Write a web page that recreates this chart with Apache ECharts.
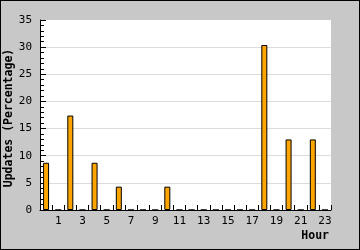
<!DOCTYPE html>
<html>
<head>
<meta charset="utf-8">
<script src="https://cdn.jsdelivr.net/npm/echarts@6/dist/echarts.min.js"></script>
<style>
  html, body { margin: 0; padding: 0; background: #c8c8c8; }
  #chart { width: 360px; height: 250px; box-sizing: border-box; border: 1px solid #000; }
</style>
</head>
<body>
<div id="chart"></div>
<script>
const hours = ['0','1','2','3','4','5','6','7','8','9','10','11','12','13','14','15','16','17','18','19','20','21','22','23'];
const updates = [8.7, 0, 17.4, 0, 8.7, 0, 4.3, 0, 0, 0, 4.3, 0, 0, 0, 0, 0, 0, 0, 30.4, 0, 13.0, 0, 13.0, 0];
const yMin = 0, yMax = 35, yStep = 5;
const xTitle = 'Hour';
const yTitle = 'Updates (Percentage)';

const FONT = 'DejaVu Sans Mono';
const chart = echarts.init(document.getElementById('chart'), null, { renderer: 'canvas' });
chart.setOption({
  backgroundColor: '#c8c8c8',
  animation: false,
  grid: { left: 39, right: 28, top: 19, bottom: 39, show: true, backgroundColor: '#fff', borderWidth: 0, containLabel: false, outerBoundsMode: 'none' },
  graphic: [{
    type: 'text',
    x: 8.5, y: 117,
    rotation: Math.PI / 2,
    style: { text: yTitle, font: 'bold 11.5px "DejaVu Sans Mono"', fill: '#000', textAlign: 'center', textVerticalAlign: 'middle' }
  }],
  xAxis: {
    type: 'category',
    data: hours,
    boundaryGap: true,
    name: xTitle,
    nameLocation: 'end',
    nameGap: -2,
    nameTextStyle: { fontFamily: FONT, fontWeight: 'bold', fontSize: 11.5, color: '#000', align: 'right', verticalAlign: 'top', padding: [20, 0, 0, 0] },
    axisLine: { show: true, lineStyle: { color: '#000', width: 1 } },
    axisTick: { show: true, inside: true, interval: 0, length: 5, lineStyle: { color: '#000' } },
    axisLabel: { interval: function (i) { return i % 2 === 1; }, fontFamily: FONT, fontSize: 11, color: '#000', margin: 6 },
    splitLine: { show: false }
  },
  yAxis: {
    type: 'value',
    min: yMin, max: yMax, interval: yStep,
    axisLine: { show: true, lineStyle: { color: '#000', width: 1 } },
    axisTick: { show: true, inside: true, length: 6, lineStyle: { color: '#000' } },
    minorTick: { show: true, splitNumber: 5, length: 4, lineStyle: { color: '#000' } },
    axisLabel: { fontFamily: FONT, fontSize: 11, color: '#000', margin: 8 },
    splitLine: { show: true, showMinLine: false, showMaxLine: false, lineStyle: { color: '#dcdcdc', width: 1 } }
  },
  series: [{
    type: 'bar',
    data: updates,
    barWidth: 6,
    itemStyle: { color: '#ffa500', borderColor: '#000', borderWidth: 1 }
  }]
});
</script>
</body>
</html>
